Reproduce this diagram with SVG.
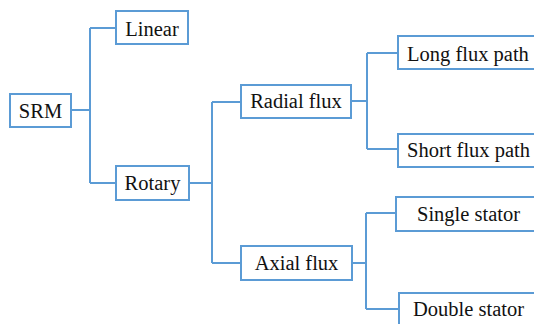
<svg xmlns="http://www.w3.org/2000/svg" width="534" height="324" viewBox="0 0 534 324">
  <style>
    .box { fill: #ffffff; stroke: #5b9bd5; stroke-width: 2; }
    .link { fill: none; stroke: #5b9bd5; stroke-width: 2; }
    .label { font-family: "Liberation Serif", "DejaVu Serif", serif; font-size: 20.5px; fill: #111111; }
    .mid { text-anchor: middle; }
  </style>
  <rect width="534" height="324" fill="#ffffff"/>

  <!-- connectors: elbow links from each parent to its children -->
  <g id="connectors">
    <path class="link" d="M71 110 H90 M90 28 V183 M90 28 H116 M90 183 H116"/>
    <path class="link" d="M189 183 H212 M212 102 V263 M212 102 H241 M212 263 H241"/>
    <path class="link" d="M351 101 H367 M367 53 V149 M367 53 H398 M367 149 H398"/>
    <path class="link" d="M352 263 H366 M366 213 V309 M366 213 H396 M366 309 H399"/>
  </g>

  <!-- nodes -->
  <g id="srm">
    <rect class="box" x="10" y="94" width="61" height="33"/>
    <text class="label mid" x="40.5" y="118">SRM</text>
  </g>
  <g id="linear">
    <rect class="box" x="116" y="11" width="72" height="33"/>
    <text class="label mid" x="152" y="36">Linear</text>
  </g>
  <g id="rotary">
    <rect class="box" x="116" y="166" width="73" height="34"/>
    <text class="label mid" x="152.5" y="190">Rotary</text>
  </g>
  <g id="radial-flux">
    <rect class="box" x="241" y="85" width="110" height="33"/>
    <text class="label mid" x="296" y="108">Radial flux</text>
  </g>
  <g id="axial-flux">
    <rect class="box" x="241" y="246" width="111" height="34"/>
    <text class="label mid" x="296.5" y="270">Axial flux</text>
  </g>
  <g id="long-flux-path">
    <rect class="box" x="398" y="36" width="150" height="33"/>
    <text class="label" x="407" y="61">Long flux path</text>
  </g>
  <g id="short-flux-path">
    <rect class="box" x="398" y="134" width="150" height="33"/>
    <text class="label" x="407" y="157">Short flux path</text>
  </g>
  <g id="single-stator">
    <rect class="box" x="396" y="197" width="150" height="34"/>
    <text class="label" x="417" y="221">Single stator</text>
  </g>
  <g id="double-stator">
    <rect class="box" x="399" y="293" width="150" height="40"/>
    <text class="label" x="413" y="316">Double stator</text>
  </g>
</svg>
